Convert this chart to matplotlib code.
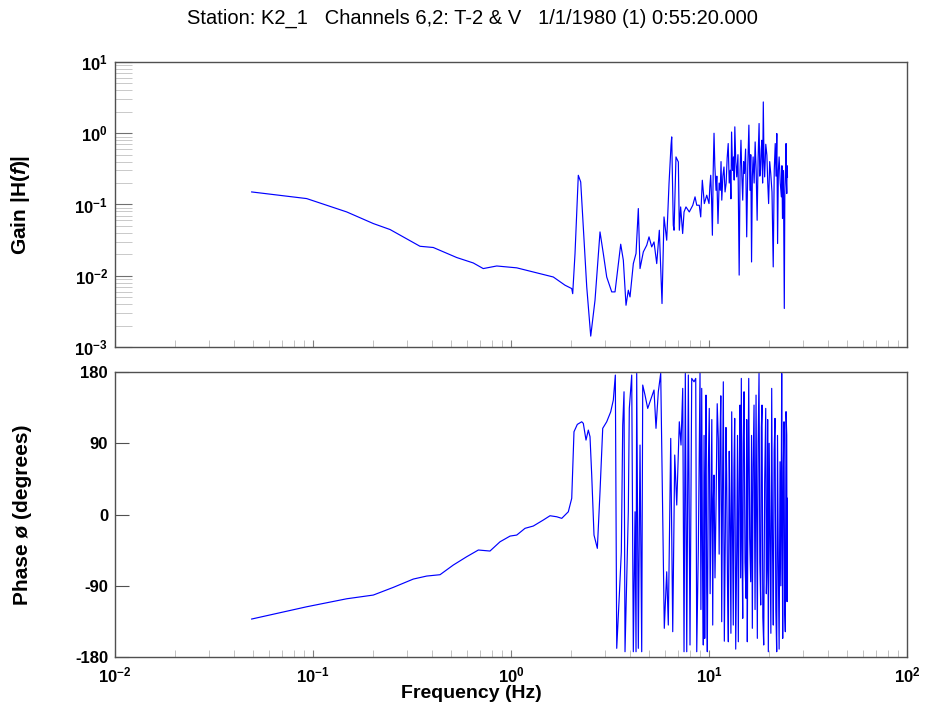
import matplotlib
matplotlib.use("Agg")
import matplotlib.pyplot as plt
from matplotlib.ticker import FixedLocator, LogLocator, NullFormatter

plt.rcParams['font.family'] = ['Liberation Sans', 'DejaVu Sans']
plt.rcParams['mathtext.fontset'] = 'custom'
plt.rcParams['mathtext.rm'] = 'Liberation Sans'
plt.rcParams['mathtext.bf'] = 'Liberation Sans:bold'
plt.rcParams['mathtext.it'] = 'Liberation Sans:italic:bold'

title = "Station: K2_1   Channels 6,2: T-2 & V   1/1/1980 (1) 0:55:20.000"

# gain |H(f)|, up to ~10 Hz
freq_gain = [0.049, 0.0929, 0.148, 0.2016, 0.245, 0.347, 0.405, 0.532, 0.645, 0.724,
             0.847, 1.069, 1.296, 1.635, 1.874, 2.026, 2.049, 2.105, 2.187, 2.249,
             2.318, 2.412, 2.527, 2.656, 2.815, 2.925, 3.043, 3.226, 3.352, 3.581,
             3.692, 3.809, 3.912, 3.990, 4.147, 4.279, 4.395, 4.483, 4.658, 4.846,
             4.977, 5.136, 5.275, 5.444, 5.611, 5.789, 5.925, 6.114, 6.281, 6.429,
             6.48, 6.60, 6.66, 6.81, 7.0, 7.08, 7.19, 7.36, 7.48, 7.65,
             7.95, 8.28, 8.50, 8.67, 8.93, 9.08, 9.25, 9.47, 9.74]
gain = [0.150, 0.121, 0.0786, 0.054, 0.0445, 0.0259, 0.0249, 0.0180, 0.0151, 0.0126,
        0.0137, 0.0129, 0.0113, 0.0096, 0.00736, 0.0066, 0.0056, 0.0205, 0.257, 0.207,
        0.0484, 0.0070, 0.00142, 0.00453, 0.0412, 0.0205, 0.0096, 0.00593, 0.00593, 0.0277,
        0.0165, 0.00385, 0.00626, 0.00504, 0.0148, 0.0205, 0.0877, 0.0126, 0.0216, 0.0268,
        0.0351, 0.0254, 0.0298, 0.0148, 0.0435, 0.00407, 0.0669, 0.0315, 0.197, 0.679,
        0.888, 0.0511, 0.0435, 0.465, 0.395, 0.0435, 0.0924, 0.0391, 0.0786, 0.0924,
        0.0786, 0.0976, 0.128, 0.0976, 0.0976, 0.0669, 0.219, 0.103, 0.135]

# noisy part of the gain, 10-25 Hz, as (Hz, gain)
gain_noisy = [(10.0, 0.103), (10.1, 0.18), (10.2, 0.257), (10.3, 0.12), (10.4, 0.037),
              (10.5, 0.3), (10.6, 1.0), (10.7, 0.35), (10.85, 0.158), (10.95, 0.25),
              (11.1, 0.054), (11.25, 0.2), (11.4, 0.158), (11.5, 0.4), (11.6, 0.115),
              (11.75, 0.25), (11.9, 0.336), (12.05, 0.15), (12.2, 0.197), (12.35, 0.45),
              (12.5, 0.717), (12.65, 0.2), (12.8, 0.303), (12.9, 0.12), (13.0, 1.04),
              (13.15, 0.3), (13.3, 0.465), (13.4, 0.22), (13.5, 1.23), (13.65, 0.4),
              (13.8, 0.244), (14.0, 0.5), (14.2, 0.0102), (14.35, 0.3), (14.5, 0.798),
              (14.65, 0.25), (14.8, 0.115), (14.95, 0.4), (15.1, 0.272), (15.3, 0.6),
              (15.5, 0.0351), (15.7, 0.35), (15.9, 1.30), (16.0, 0.4), (16.1, 0.158),
              (16.25, 0.5), (16.4, 0.0156), (16.55, 0.25), (16.7, 0.465), (16.9, 0.2),
              (17.1, 0.755), (17.3, 0.3), (17.5, 0.060), (17.7, 0.45), (17.9, 1.37),
              (18.05, 0.25), (18.2, 0.303), (18.35, 0.6), (18.5, 0.798), (18.65, 0.2),
              (18.8, 2.75), (18.95, 0.4), (19.1, 0.244), (19.35, 0.7), (19.6, 0.491),
              (19.8, 0.2), (20.0, 0.103), (20.25, 0.4), (20.5, 0.272), (20.8, 0.15),
              (21.1, 0.0133), (21.35, 0.3), (21.6, 0.717), (21.8, 0.25), (22.0, 0.99),
              (22.1, 0.2), (22.2, 0.0283), (22.4, 0.3), (22.6, 0.465), (22.9, 0.2),
              (23.2, 0.128), (23.35, 0.35), (23.5, 0.0635), (23.75, 0.3), (24.0, 0.00347),
              (24.15, 0.15), (24.3, 0.272), (24.4, 0.35), (24.5, 0.717), (24.6, 0.2),
              (24.7, 0.1425), (24.8, 0.35), (24.9, 0.244)]

# phase in degrees, up to ~9 Hz
freq_phase = [0.049, 0.0929, 0.148, 0.2016, 0.2544, 0.321, 0.375, 0.438, 0.511, 0.597,
              0.684, 0.783, 0.880, 0.989, 1.069, 1.177, 1.296, 1.456, 1.574, 1.702,
              1.804, 1.947, 2.026, 2.080, 2.162, 2.275, 2.318, 2.392, 2.457, 2.506,
              2.556, 2.625, 2.729, 2.815, 2.905, 3.043, 3.188, 3.286, 3.364, 3.419,
              3.524, 3.607, 3.666, 3.722, 3.765, 3.912, 3.958, 4.070, 4.147, 4.230,
              4.279, 4.313, 4.395, 4.483, 4.572, 4.626, 4.751, 4.902, 5.035, 5.275,
              5.398, 5.545, 5.702, 5.877, 5.945, 6.114, 6.228, 6.407, 6.558, 6.712,
              6.871, 7.079, 7.221, 7.366, 7.478, 7.592, 7.718, 7.863, 8.017, 8.178,
              8.401, 8.569, 8.670, 8.831]
phase = [-132.0, -116.5, -106.4, -101.7, -92.0, -81.5, -77.7, -76.0, -63.8, -53.3,
         -44.8, -46.1, -34.4, -27.2, -25.9, -17.4, -14.5, -6.9, -1.5, -2.8,
         -4.8, 3.5, 20.5, 104.6, 113.9, 117.2, 115.2, 94.1, 106.7, 98.3,
         49.9, -25.9, -42.7, 28.8, 108.9, 117.2, 129.8, 144.6, 176.2, -169.0,
         -101.7, -47.0, 113.0, 155.1, -173.3, 3.5, 134.1, 176.2, -173.3, 3.5,
         -173.3, 178.4, -169.0, 87.8, -173.3, 163.6, 150.9, 134.1, 142.5, 157.3,
         108.9, 155.1, 178.4, -55.3, -143.7, -72.3, -139.6, 96.2, -148.0, 75.2,
         12.0, 117.2, 87.8, 159.4, -173.3, 178.4, -173.3, 176.2, -164.8, 172.0,
         167.7, 172.0, -173.3, -42.7]

# noisy part of the phase, 9-25 Hz, as (Hz, degrees)
phase_noisy = [(9.006, 179.5), (9.1, -120), (9.186, 159.4), (9.27, -60), (9.359, -164.8),
               (9.44, 100), (9.513, -156.4), (9.58, 40), (9.656, 150.9), (9.73, -90),
               (9.804, -173.3), (9.92, 60), (10.03, 134.1), (10.13, -100), (10.23, -4.8),
               (10.33, 120), (10.44, -139.6), (10.52, 20), (10.60, 49.9), (10.72, -80),
               (10.85, 12.0), (11.0, 140), (11.14, 96.2), (11.25, -50), (11.36, 92.0),
               (11.47, 150), (11.59, -135.4), (11.70, 30), (11.81, 167.7), (11.95, -160),
               (12.09, -21.7), (12.18, 110), (12.28, 49.9), (12.40, -90), (12.52, -160.7),
               (12.65, 80), (12.77, -4.8), (12.9, -150), (13.02, 129.8), (13.14, -20),
               (13.26, -139.6), (13.37, 60), (13.48, 121.5), (13.64, -170), (13.80, -47.0),
               (13.93, 100), (14.06, -160.7), (14.2, 40), (14.34, 138.3), (14.45, -80),
               (14.56, 172.0), (14.68, -40), (14.80, -131.1), (14.9, 90), (15.03, 155.1),
               (15.2, -60), (15.38, -105.8), (15.5, 120), (15.61, -160.7), (15.74, 40),
               (15.87, 172.0), (16.05, -30), (16.24, -84.9), (16.4, 100), (16.55, -143.7),
               (16.7, 60), (16.88, 138.3), (17.08, -120), (17.28, 150.9), (17.41, -10),
               (17.54, -156.4), (17.7, 90), (17.89, 178.4), (18.06, -60), (18.24, -114.3),
               (18.38, 110), (18.52, 138.3), (18.7, -130), (18.89, -164.8), (19.1, 40),
               (19.34, 134.1), (19.48, -100), (19.63, -63.8), (19.78, 120), (19.93, -173.3),
               (20.13, 90), (20.33, -34.4), (20.53, -150), (20.73, 159.4), (20.93, -40),
               (21.12, -139.6), (21.33, 80), (21.54, 121.5), (21.75, -120), (21.97, -173.3),
               (22.18, 100), (22.39, -63.8), (22.6, -170), (22.84, 66.7), (23.05, -90),
               (23.29, 178.4), (23.42, -20), (23.56, -156.4), (23.74, 60), (23.92, 117.2),
               (24.1, -120), (24.29, -148.0), (24.49, 130), (24.69, 100.4), (24.78, -110),
               (24.86, 20.5)]

decades = [0.01, 0.1, 1, 10, 100]
decade_labels = [r'$\mathbf{10^{-2}}$', r'$\mathbf{10^{-1}}$', r'$\mathbf{10^{0}}$',
                 r'$\mathbf{10^{1}}$', r'$\mathbf{10^{2}}$']
gain_ticks = [0.001, 0.01, 0.1, 1, 10]
gain_labels = [r'$\mathbf{10^{-3}}$', r'$\mathbf{10^{-2}}$', r'$\mathbf{10^{-1}}$',
               r'$\mathbf{10^{0}}$', r'$\mathbf{10^{1}}$']
phase_ticks = [-180, -90, 0, 90, 180]

f_gain = freq_gain + [p[0] for p in gain_noisy]
g_all = gain + [p[1] for p in gain_noisy]
f_phase = freq_phase + [p[0] for p in phase_noisy]
p_all = phase + [p[1] for p in phase_noisy]

fig = plt.figure(figsize=(9.26, 7.11), dpi=100)
ax1 = fig.add_axes([0.1242, 0.5120, 0.8553, 0.4008])
ax2 = fig.add_axes([0.1242, 0.0759, 0.8553, 0.4008])

ax1.plot(f_gain, g_all, color='#0000ff', linewidth=0.85)
ax2.plot(f_phase, p_all, color='#0000ff', linewidth=0.85)

for ax in (ax1, ax2):
    ax.set_xscale('log')
    ax.set_xlim(0.01, 100)
    for s in ax.spines.values():
        s.set_color('#505050')
        s.set_linewidth(1.0)
    ax.xaxis.set_major_locator(FixedLocator(decades))
    ax.xaxis.set_minor_locator(LogLocator(base=10, subs=range(2, 10), numticks=10))
    ax.xaxis.set_minor_formatter(NullFormatter())
    ax.tick_params(axis='x', which='major', direction='in', length=5, color='#808080', top=False)
    ax.tick_params(axis='x', which='minor', direction='in', length=5, color='#b8b8b8', top=False)

ax1.set_xticklabels([])
ax2.set_xticks(decades)
ax2.set_xticklabels(decade_labels, fontsize=12)
ax2.tick_params(axis='x', which='major', pad=6)

ax1.set_yscale('log')
ax1.set_ylim(1e-3, 10)
ax1.yaxis.set_major_locator(FixedLocator(gain_ticks))
ax1.set_yticklabels(gain_labels, fontsize=12)
ax1.yaxis.set_minor_locator(LogLocator(base=10, subs=range(2, 10), numticks=10))
ax1.yaxis.set_minor_formatter(NullFormatter())
ax1.tick_params(axis='y', which='major', direction='in', length=12, color='#707070', right=False, pad=5)
ax1.tick_params(axis='y', which='minor', direction='in', length=12, color='#c0c0c0', right=False)

ax2.set_ylim(-180, 180)
ax2.set_yticks(phase_ticks)
ax2.set_yticklabels([str(t) for t in phase_ticks], fontsize=12, fontweight='bold')
ax2.tick_params(axis='y', which='major', direction='in', length=10, color='#505050', right=False, pad=5)

ax1.set_ylabel(r'Gain |H($\mathit{f}$)|', fontsize=15, fontweight='bold')
ax1.yaxis.set_label_coords(-0.105, 0.5)
ax2.set_ylabel('Phase ø (degrees)', fontsize=15, fontweight='bold')
ax2.yaxis.set_label_coords(-0.105, 0.5)

fig.text(471 / 926, 1 - 693 / 711, 'Frequency (Hz)', ha='center', va='center',
         fontsize=14, fontweight='bold')
fig.text(472 / 926, 1 - 18 / 711, title, ha='center', va='center', fontsize=14.5)

plt.savefig("out.png", dpi=100)
